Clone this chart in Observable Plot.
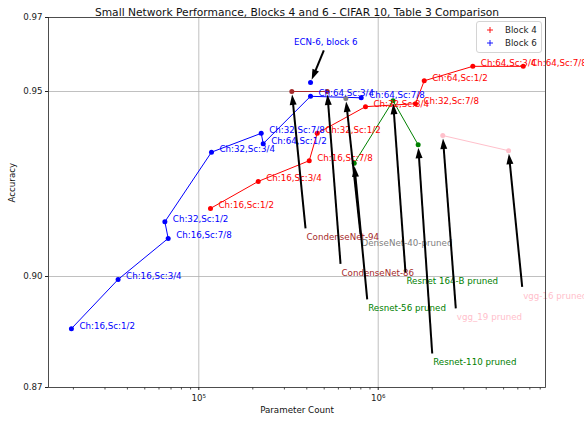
<!DOCTYPE html>
<html><head><meta charset="utf-8">
<script src="https://cdn.jsdelivr.net/npm/d3@7"></script>
<script src="https://cdn.jsdelivr.net/npm/@observablehq/plot@0.6"></script>
<style>
body{margin:0;background:#fff;font-family:"DejaVu Sans",sans-serif;}
#wrap{position:relative;width:584px;height:422px;}
#legend{position:absolute;left:476px;top:21px;width:64px;height:30px;border:1px solid #d4d4d4;border-radius:3px;background:rgba(255,255,255,0.8);font-size:8.7px;color:#222;}
.row{position:absolute;left:0;height:12px;line-height:12px;}
.row svg{position:absolute;left:10px;top:3px;}
.row span{position:absolute;left:28px;white-space:nowrap;}
</style></head>
<body>
<div id="wrap"><div id="chart"></div>
<div id="legend">
  <div class="row" style="top:2px"><svg width="6" height="6"><path d="M3,0V6M0,3H6" stroke="red" stroke-width="0.9"/></svg><span>Block 4</span></div>
  <div class="row" style="top:15px"><svg width="6" height="6"><path d="M3,0V6M0,3H6" stroke="blue" stroke-width="0.9"/></svg><span>Block 6</span></div>
</div></div>
<script>
// ---- data ----
const configLabels = ["Ch:16,Sc:1/2","Ch:16,Sc:3/4","Ch:16,Sc:7/8","Ch:32,Sc:1/2","Ch:32,Sc:3/4","Ch:32,Sc:7/8","Ch:64,Sc:1/2","Ch:64,Sc:3/4","Ch:64,Sc:7/8"];
const block6Params = [19500, 35500, 67500, 64700, 117700, 222800, 228600, 419500, 803900];
const block6Acc    = [0.8859, 0.8992, 0.9103, 0.9148, 0.9336, 0.9387, 0.9359, 0.9487, 0.9483];
const block4Params = [116200, 214400, 412600, 457100, 849500, 1614000, 1805000, 3368000, 6432000];
const block4Acc    = [0.9184, 0.9257, 0.9313, 0.9387, 0.9459, 0.9467, 0.9529, 0.9568, 0.9568];

const ecnLabel = "ECN-6, block 6";
const ecnParams = 419500, ecnAcc = 0.9524;
const ecnTextParams = 510500, ecnTextAcc = 0.9633;
const ecnArrowParams = 497600, ecnArrowAcc = 0.9611;

const modelNames  = ["CondenseNet-94","CondenseNet-86","DenseNet-40-pruned","Resnet-56 pruned","Resnet 164-B pruned","Resnet-110 pruned","vgg_19 pruned","vgg-16 pruned"];
const modelParams = [330000, 520000, 660000, 735000, 1210000, 1670000, 2290000, 5330000];
const modelAcc    = [0.950, 0.950, 0.9481, 0.9306, 0.9475, 0.9356, 0.9381, 0.9340];
const modelGroup  = ["CondenseNet","CondenseNet","DenseNet","Resnet","Resnet","Resnet","vgg","vgg"];
const groupColor  = {CondenseNet: "brown", DenseNet: "grey", Resnet: "green", vgg: "pink"};
const labelParams = [393400, 616600, 796900, 868400, 1419000, 2000000, 2707000, 6347000];
const labelAcc    = [0.9130, 0.9034, 0.9114, 0.8938, 0.9011, 0.8792, 0.8914, 0.8972];

const xTicks = [1e5, 1e6];
const xTickLabels = ["10\u2075", "10\u2076"];
const yTicks = [0.87, 0.90, 0.95, 0.97];
const minorTicks = [2e4,3e4,4e4,5e4,6e4,7e4,8e4,9e4,2e5,3e5,4e5,5e5,6e5,7e5,8e5,9e5,2e6,3e6,4e6,5e6,6e6,7e6,8e6];

const titleText = "Small Network Performance, Blocks 4 and 6 - CIFAR 10, Table 3 Comparison";
const xLabel = "Parameter Count", yLabel = "Accuracy";

// ---- layout ----
const W = 584, H = 422, mL = 48, mR = 39, mT = 17, mB = 35;
const xDomain = [14530, 8560000], yDomain = [0.87, 0.97];
const xs = d3.scaleLog(xDomain, [mL, W - mR]);
const ys = d3.scaleLinear(yDomain, [H - mB, mT]);

const b6 = configLabels.map((l, i) => ({label: l, x: block6Params[i], y: block6Acc[i]}));
const b4 = configLabels.map((l, i) => ({label: l, x: block4Params[i], y: block4Acc[i]}));
const models = modelNames.map((n, i) => ({name: n, x: modelParams[i], y: modelAcc[i], g: modelGroup[i], color: groupColor[modelGroup[i]], lx: labelParams[i], ly: labelAcc[i]}));

function arrow(px, py, sx, sy) {
  const X = xs(px), Y = ys(py), SX = xs(sx), SY = ys(sy);
  const dx = SX - X, dy = SY - Y, L = Math.hypot(dx, dy);
  const tx = X + dx / L * 3, ty = Y + dy / L * 3;      // tip, shrunk from point
  const bx = X + dx / L * 9, by = Y + dy / L * 9;      // shaft end under head
  return {x1: sx, y1: sy, x2: xs.invert(bx), y2: ys.invert(by), hx: xs.invert(tx), hy: ys.invert(ty), angle: Math.atan2(-dx, dy) * 180 / Math.PI};
}
const arrows = models.map(m => arrow(m.x, m.y, m.lx, m.ly));
arrows.push(arrow(ecnParams, ecnAcc, ecnArrowParams, ecnArrowAcc));

const headSym = {draw(ctx) { ctx.moveTo(0, 0); ctx.lineTo(3.5, 10.5); ctx.lineTo(-3.5, 10.5); ctx.closePath(); }};
const tickSym = {draw(ctx) { ctx.moveTo(0, 0); ctx.lineTo(0, 2); }};

const fs = 8.7;
const marks = [
  Plot.ruleX(xTicks, {stroke: "#b0b0b0", strokeWidth: 0.8}),
  Plot.ruleY([0.90, 0.95], {stroke: "#b0b0b0", strokeWidth: 0.8}),
  Plot.line(b6, {x: "x", y: "y", stroke: "blue", strokeWidth: 1}),
  Plot.dot(b6, {x: "x", y: "y", fill: "blue", r: 2.5}),
  Plot.line(b4, {x: "x", y: "y", stroke: "red", strokeWidth: 1}),
  Plot.dot(b4, {x: "x", y: "y", fill: "red", r: 2.5}),
  Plot.dot([0], {x: () => ecnParams, y: () => ecnAcc, fill: "blue", r: 2.5})
];
for (const g of Object.keys(groupColor)) {
  const sub = models.filter(m => m.g === g);
  marks.push(Plot.line(sub, {x: "x", y: "y", stroke: groupColor[g], strokeWidth: 1}));
  marks.push(Plot.dot(sub, {x: "x", y: "y", fill: groupColor[g], r: 2.5}));
}
marks.push(
  Plot.text(b6, {x: "x", y: "y", text: "label", fill: "blue", dx: 8, textAnchor: "start", lineAnchor: "bottom", fontSize: fs}),
  Plot.text(b4, {x: "x", y: "y", text: "label", fill: "red", dx: 8, textAnchor: "start", lineAnchor: "bottom", fontSize: fs}),
  Plot.text(models, {x: "lx", y: "ly", text: "name", fill: d => d.color, dx: 1, dy: 9, textAnchor: "start", fontSize: fs}),
  Plot.text([ecnLabel], {x: () => ecnTextParams, y: () => ecnTextAcc, fill: "blue", fontSize: fs}),
  Plot.link(arrows, {x1: "x1", y1: "y1", x2: "x2", y2: "y2", stroke: "black", strokeWidth: 2}),
  Plot.dot(arrows, {x: "hx", y: "hy", symbol: headSym, rotate: "angle", fill: "black", stroke: "none"}),
  Plot.dot(minorTicks, {x: d => d, frameAnchor: "bottom", symbol: tickSym, stroke: "#222", strokeWidth: 0.8, fill: "none"}),
  Plot.frame({stroke: "#222", strokeWidth: 0.8}),
  Plot.text([titleText], {frameAnchor: "top", dy: -9, fontSize: 10.7, fill: "#111"}),
  Plot.text([yLabel], {frameAnchor: "left", dx: -36, rotate: -90, fontSize: fs, fill: "#111"}),
  Plot.text([xLabel], {frameAnchor: "bottom", dy: 25, fontSize: fs, fill: "#111"})
);

const chart = Plot.plot({
  width: W, height: H,
  marginLeft: mL, marginRight: mR, marginTop: mT, marginBottom: mB,
  style: {fontFamily: "DejaVu Sans", fontSize: fs + "px", color: "#222", background: "white", overflow: "visible"},
  x: {type: "log", domain: xDomain, ticks: xTicks, tickFormat: d => xTickLabels[xTicks.indexOf(d)], tickSize: 3, tickPadding: 4, label: null},
  y: {domain: yDomain, ticks: yTicks, tickFormat: d3.format(".2f"), tickSize: 3, tickPadding: 3, label: null},
  marks
});
document.getElementById("chart").appendChild(chart);
</script>
</body></html>
